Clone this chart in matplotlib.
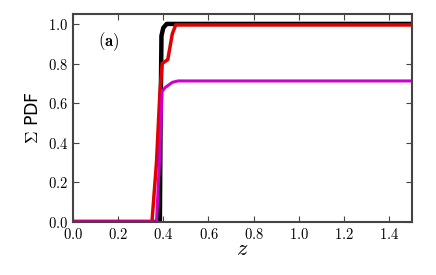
import matplotlib
matplotlib.use("Agg")
import matplotlib.pyplot as plt
from matplotlib.ticker import FuncFormatter

plt.rcParams['mathtext.fontset'] = 'cm'

# cumulative PDF curves (z, value)
z_black = [0.0, 0.385, 0.388, 0.392, 0.40, 0.415, 0.43, 1.5]
v_black = [0.0, 0.0, 0.5, 0.94, 0.98, 1.0, 1.0, 1.0]

z_red = [0.0, 0.35, 0.37, 0.385, 0.395, 0.42, 0.44, 0.455, 1.5]
v_red = [0.0, 0.0, 0.3, 0.65, 0.80, 0.82, 0.95, 0.995, 0.995]

z_mag = [0.0, 0.37, 0.385, 0.395, 0.41, 0.44, 0.465, 1.5]
v_mag = [0.0, 0.0, 0.35, 0.66, 0.68, 0.705, 0.712, 0.712]

xticks = [0.0, 0.2, 0.4, 0.6, 0.8, 1.0, 1.2, 1.4]
yticks = [0.0, 0.2, 0.4, 0.6, 0.8, 1.0]

fig = plt.figure(figsize=(4.36, 2.75), dpi=100)
ax = fig.add_axes([0.167, 0.193, 0.778, 0.756])

ax.plot(z_black, v_black, color='black', lw=3.2)
ax.plot(z_red, v_red, color='#e00000', lw=2.5)
ax.plot(z_mag, v_mag, color='#cc00cc', lw=2.2)

ax.set_xlim(0, 1.5)
ax.set_ylim(0, 1.05)
ax.set_xticks(xticks)
ax.set_yticks(yticks)
fmt = FuncFormatter(lambda v, p: r'$%.1f$' % v)
ax.xaxis.set_major_formatter(fmt)
ax.yaxis.set_major_formatter(fmt)
ax.tick_params(direction='in', top=True, right=True, labelsize=10.5, color='#444444', length=4)
for s in ax.spines.values():
    s.set_linewidth(1.5)
    s.set_color('#444444')

ax.set_xlabel(r'$z$', fontsize=16, labelpad=-2)
ax.set_ylabel(r'$\Sigma$ PDF', fontsize=12.5)
ax.text(0.106, 0.865, r'$\mathbf{(a)}$', transform=ax.transAxes, fontsize=12,
        ha='center', va='center')

plt.savefig("out.png", dpi=100)
